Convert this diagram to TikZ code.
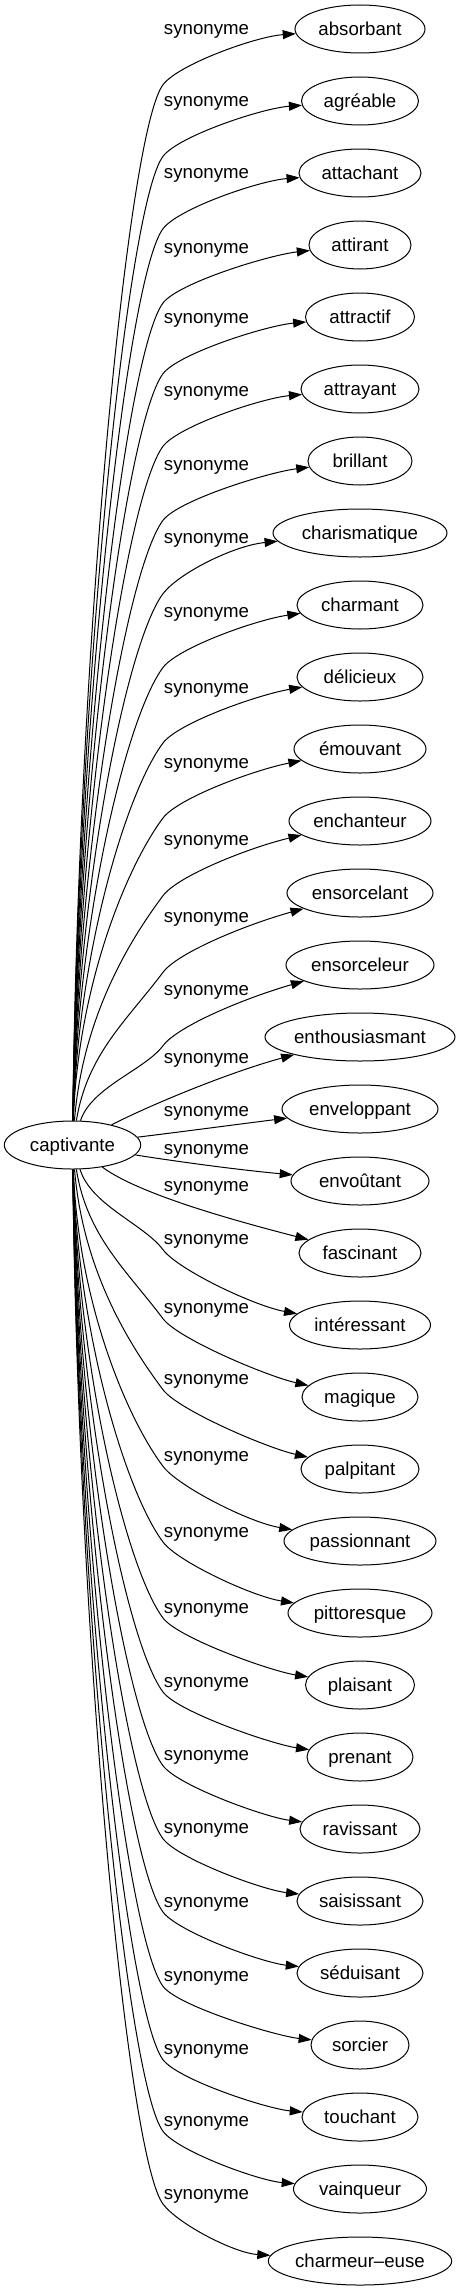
\documentclass[tikz,border=0pt]{standalone}
\usepackage{fontspec}
\setmainfont{Liberation Sans}
\usetikzlibrary{shapes.geometric,arrows.meta}
\begin{document}
\begin{tikzpicture}[x=0.75pt,y=-0.75pt,
  word/.style={draw, ellipse, line width=0.75pt, inner sep=0pt, minimum height=36pt,
    text height=10pt, text depth=0pt, font=\fontsize{14pt}{16pt}\selectfont},
  lab/.style={inner sep=0pt, font=\fontsize{14pt}{16pt}\selectfont},
  edge/.style={line width=0.75pt, -{Triangle[length=9.75pt,width=6.75pt]}}]
\useasboundingbox (0,0) rectangle (460,2291);
\node[word, minimum width=102.3pt] (cap) at (72.5,1145) {captivante};
% targets and labels
\foreach \i/\nm/\ww/\ly in {
 1/absorbant/130/31.7, 2/agréable/117/103.3, 3/attachant/122/175.7,
 4/attirant/102/250, 5/attractif/109/320.7, 6/attrayant/118/393.3,
 7/brillant/104/467.3, 8/charismatique/174/540.7, 9/charmant/126/614.5,
 10/délicieux/126/690, 11/émouvant/132/765, 12/enchanteur/142/842.7,
 13/ensorcelant/146/919.3, 14/ensorceleur/148/992.7, 15/enthousiasmant/190/1060,
 16/enveloppant/156/1113.3, 17/envoûtant/138/1151, 18/fascinant/122/1188.3,
 19/intéressant/141/1241.7, 20/magique/116/1310.7, 21/palpitant/118/1381.7,
 22/passionnant/152/1458.3, 23/pittoresque/144/1534, 24/plaisant/109/1610,
 25/prenant/106/1684, 26/ravissant/120/1757.7, 27/saisissant/126/1830.7,
 28/séduisant/126/1904, 29/sorcier/98/1978.3, 30/touchant/116/2051.7,
 31/vainqueur/133/2123.3, 32/charmeur–euse/182/2196}{
  \pgfmathsetmacro{\ty}{29+72*(\i-1)}
  \node[word, minimum width=\ww*0.75pt] (t\i) at (360,\ty) {\nm};
  \node[lab] (l\i) at (206.5,\ly) {synonyme};
}
% upper edges
\foreach \i/\ly/\ww in {1/31.7/130, 2/103.3/117, 3/175.7/122, 4/250/102,
 5/320.7/109, 6/393.3/118, 7/467.3/104, 8/540.7/174, 9/614.5/126,
 10/690/126, 11/765/132, 12/842.7/142, 13/919.3/146, 14/992.7/148}{
  \pgfmathsetmacro{\ky}{\ly+53}
  \pgfmathsetmacro{\dd}{1121-\ky}
  \pgfmathsetmacro{\xa}{78+max(0,300-\dd)*0.06}
  \pgfmathsetmacro{\ya}{1121-0.45*\dd}
  \pgfmathsetmacro{\sa}{min(60,0.4*\dd)}
  \pgfmathsetmacro{\xb}{163-0.6*\sa}
  \pgfmathsetmacro{\yb}{\ky+0.8*\sa}
  \pgfmathsetmacro{\yc}{\ky-20}
  \pgfmathsetmacro{\xd}{360-\ww/2-40}
  \pgfmathsetmacro{\yd}{\ly+5}
  \coordinate (k\i) at (163,\ky);
  \draw[edge] (cap) .. controls (\xa,\ya) and (\xb,\yb) .. (k\i)
     .. controls (178,\yc) and (\xd,\yd) .. (t\i);
}
% middle edges
\draw[edge] (cap) .. controls (150,1105) and (230,1072) .. (t15);
\draw[edge] (cap) .. controls (180,1132) and (240,1124) .. (t16);
\draw[edge] (cap) .. controls (180,1162) and (240,1170) .. (t17);
\draw[edge] (cap) .. controls (140,1195) and (240,1222) .. (t18);
% lower edges
\foreach \i/\ly/\ww in {19/1241.7/141, 20/1310.7/116, 21/1381.7/118,
 22/1458.3/152, 23/1534/144, 24/1610/109, 25/1684/106, 26/1757.7/120,
 27/1830.7/126, 28/1904/126, 29/1978.3/98, 30/2051.7/116, 31/2123.3/133,
 32/2196/182}{
  \pgfmathsetmacro{\ty}{29+72*(\i-1)}
  \pgfmathsetmacro{\ky}{\ly+8}
  \pgfmathsetmacro{\dd}{\ky-1169}
  \pgfmathsetmacro{\xa}{78+max(0,300-\dd)*0.06}
  \pgfmathsetmacro{\ya}{1169+0.45*\dd}
  \pgfmathsetmacro{\sa}{min(60,0.4*\dd)}
  \pgfmathsetmacro{\xb}{163-0.6*\sa}
  \pgfmathsetmacro{\yb}{\ky-0.8*\sa}
  \pgfmathsetmacro{\yc}{\ky+20}
  \pgfmathsetmacro{\xd}{360-\ww/2-35}
  \pgfmathsetmacro{\yd}{\ty-8-0.6*max(0,\ty-\ly-65)}
  \coordinate (k\i) at (163,\ky);
  \draw[edge] (cap) .. controls (\xa,\ya) and (\xb,\yb) .. (k\i)
     .. controls (178,\yc) and (\xd,\yd) .. (t\i);
}
\end{tikzpicture}
\end{document}
